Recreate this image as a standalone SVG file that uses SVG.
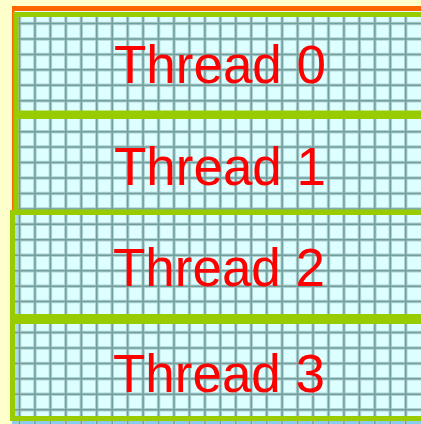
<svg xmlns="http://www.w3.org/2000/svg" width="421" height="424" viewBox="0 0 421 424">
<style>
.block{fill:none;stroke:#99CC00;stroke-width:5}
.label{font-family:"Liberation Sans",Arial,sans-serif;font-size:53px;fill:#FF0000;text-anchor:middle}
.gl{fill:none;stroke:#AFD2D2;stroke-width:3.5}
.gd{fill:none;stroke:#729E9E;stroke-width:1.5}
</style>
<rect x="0" y="0" width="421" height="424" fill="#FFFFCC"/>
<rect x="14" y="11" width="407" height="413" fill="#DDFFFF"/>
<rect x="12" y="421" width="409" height="3" fill="#88CCEE"/>
<rect x="15" y="215" width="4" height="201" fill="#AADDEE"/>
<g id="grid">
<path class="gl" d="M19.5 12V424M34.95 12V424M50.4 12V424M65.85 12V424M81.3 12V424M96.75 12V424M112.2 12V424M127.65 12V424M143.1 12V424M158.55 12V424M174 12V424M189.45 12V424M204.9 12V424M220.35 12V424M235.8 12V424M251.25 12V424M266.7 12V424M282.15 12V424M297.6 12V424M313.05 12V424M328.5 12V424M343.95 12V424M359.4 12V424M374.85 12V424M390.3 12V424M405.75 12V424M14 23.5H421M14 38.95H421M14 54.4H421M14 69.85H421M14 85.3H421M14 100.75H421M14 116.2H421M14 131.65H421M14 147.1H421M14 162.55H421M14 178H421M14 193.45H421M14 208.9H421M14 224.35H421M14 239.8H421M14 255.25H421M14 270.7H421M14 286.15H421M14 301.6H421M14 317.05H421M14 332.5H421M14 347.95H421M14 363.4H421M14 378.85H421M14 394.3H421M14 409.75H421"/>
<path class="gd" d="M19.5 12V424M34.95 12V424M50.4 12V424M65.85 12V424M81.3 12V424M96.75 12V424M112.2 12V424M127.65 12V424M143.1 12V424M158.55 12V424M174 12V424M189.45 12V424M204.9 12V424M220.35 12V424M235.8 12V424M251.25 12V424M266.7 12V424M282.15 12V424M297.6 12V424M313.05 12V424M328.5 12V424M343.95 12V424M359.4 12V424M374.85 12V424M390.3 12V424M405.75 12V424M14 23.5H421M14 38.95H421M14 54.4H421M14 69.85H421M14 85.3H421M14 100.75H421M14 116.2H421M14 131.65H421M14 147.1H421M14 162.55H421M14 178H421M14 193.45H421M14 208.9H421M14 224.35H421M14 239.8H421M14 255.25H421M14 270.7H421M14 286.15H421M14 301.6H421M14 317.05H421M14 332.5H421M14 347.95H421M14 363.4H421M14 378.85H421M14 394.3H421M14 409.75H421"/>
</g>
<g id="outline">
<rect x="12" y="6" width="409" height="5" fill="#FF6600"/>
<rect x="12" y="6" width="2.5" height="204" fill="#FF6600"/>
</g>
<g id="thread0">
<rect class="block" x="16" y="14.5" width="420" height="98.5"/>
<text class="label" x="220" y="83">Thread 0</text>
</g>
<g id="thread1">
<rect class="block" x="16" y="116.5" width="420" height="95.5"/>
<text class="label" x="220" y="185">Thread 1</text>
</g>
<g id="thread2">
<rect class="block" x="12.5" y="212.5" width="420" height="104"/>
<text class="label" x="219" y="286">Thread 2</text>
</g>
<g id="thread3">
<rect class="block" x="12.5" y="321.5" width="420" height="97"/>
<text class="label" x="219" y="392">Thread 3</text>
</g>
</svg>
